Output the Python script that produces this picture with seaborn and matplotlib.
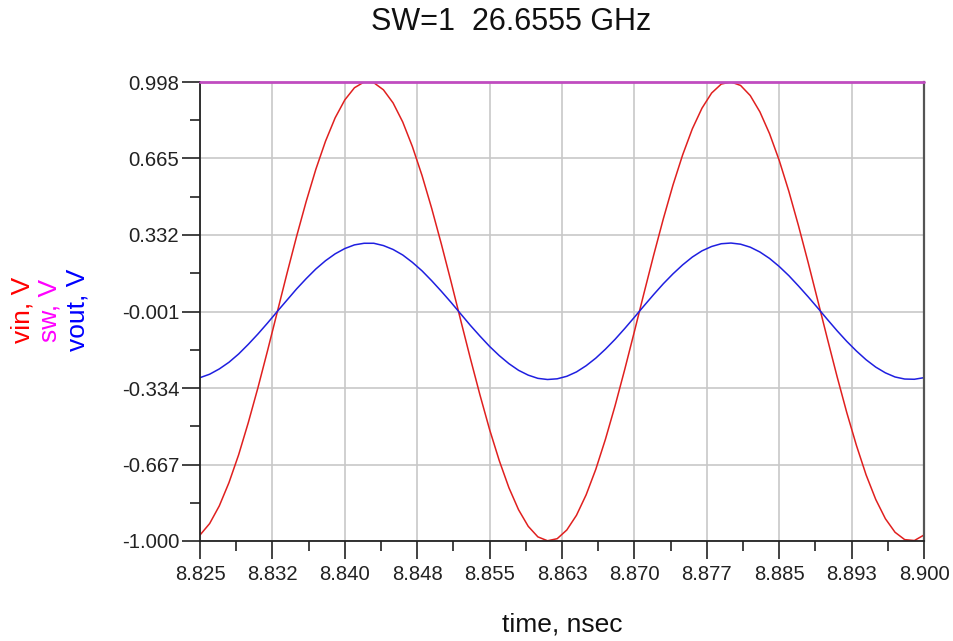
import numpy as np
import pandas as pd
import matplotlib
matplotlib.use('Agg')
import matplotlib.pyplot as plt
import seaborn as sns
from matplotlib.ticker import AutoMinorLocator

# sample times (nsec), every 1 ps
time = [8.825, 8.826, 8.827, 8.828, 8.829, 8.830, 8.831, 8.832, 8.833, 8.834,
        8.835, 8.836, 8.837, 8.838, 8.839, 8.840, 8.841, 8.842, 8.843, 8.844,
        8.845, 8.846, 8.847, 8.848, 8.849, 8.850, 8.851, 8.852, 8.853, 8.854,
        8.855, 8.856, 8.857, 8.858, 8.859, 8.860, 8.861, 8.862, 8.863, 8.864,
        8.865, 8.866, 8.867, 8.868, 8.869, 8.870, 8.871, 8.872, 8.873, 8.874,
        8.875, 8.876, 8.877, 8.878, 8.879, 8.880, 8.881, 8.882, 8.883, 8.884,
        8.885, 8.886, 8.887, 8.888, 8.889, 8.890, 8.891, 8.892, 8.893, 8.894,
        8.895, 8.896, 8.897, 8.898, 8.899, 8.900]

vin = [-0.974, -0.924, -0.847, -0.746, -0.625, -0.485, -0.333, -0.171, -0.004, 0.163,
       0.325, 0.478, 0.618, 0.740, 0.842, 0.920, 0.973, 0.998, 0.995, 0.964,
       0.907, 0.824, 0.717, 0.591, 0.448, 0.293, 0.130, -0.038, -0.204, -0.364,
       -0.515, -0.650, -0.768, -0.864, -0.936, -0.982, -0.999, -0.990, -0.952, -0.888,
       -0.799, -0.688, -0.557, -0.411, -0.253, -0.088, 0.080, 0.245, 0.403, 0.550,
       0.681, 0.794, 0.884, 0.950, 0.989, 0.998, 0.983, 0.939, 0.868, 0.773,
       0.657, 0.522, 0.372, 0.212, 0.046, -0.121, -0.285, -0.441, -0.584, -0.712,
       -0.819, -0.903, -0.962, -0.994, -0.998, -0.974]

vout = [-0.289, -0.274, -0.251, -0.222, -0.186, -0.144, -0.099, -0.051, -0.001, 0.048,
        0.097, 0.142, 0.184, 0.220, 0.250, 0.273, 0.289, 0.296, 0.296, 0.286,
        0.269, 0.245, 0.213, 0.176, 0.133, 0.087, 0.039, -0.011, -0.061, -0.108,
        -0.153, -0.193, -0.228, -0.257, -0.278, -0.292, -0.297, -0.294, -0.283, -0.264,
        -0.237, -0.204, -0.165, -0.122, -0.075, -0.026, 0.024, 0.073, 0.120, 0.163,
        0.202, 0.236, 0.263, 0.282, 0.294, 0.297, 0.292, 0.279, 0.258, 0.230,
        0.195, 0.155, 0.110, 0.063, 0.014, -0.036, -0.085, -0.131, -0.173, -0.211,
        -0.243, -0.268, -0.286, -0.295, -0.296, -0.289]

sw_time = [8.825, 8.900]
sw = [1.0, 1.0]

xticks = [8.825, 8.8325, 8.840, 8.8475, 8.855, 8.8625, 8.870, 8.8775, 8.885, 8.8925, 8.900]
xticklabels = ['8.825', '8.832', '8.840', '8.848', '8.855', '8.863',
               '8.870', '8.877', '8.885', '8.893', '8.900']
yticks = [0.998, 0.665, 0.332, -0.001, -0.334, -0.667, -1.000]
yticklabels = ['0.998', '0.665', '0.332', '-0.001', '-0.334', '-0.667', '-1.000']

sns.set_style('white')
plt.rcParams['font.family'] = ['Liberation Sans', 'DejaVu Sans']

fig = plt.figure(figsize=(9.54, 6.41), dpi=100)
ax = fig.add_axes([200 / 954, 1 - 541 / 641, 724 / 954, 459 / 641])

df = pd.DataFrame({'time': time, 'vin': vin, 'vout': vout})
sns.lineplot(data=df, x='time', y='vin', ax=ax, color='#e0201f', lw=1.1, sort=False)
sns.lineplot(data=df, x='time', y='vout', ax=ax, color='#1f1fe0', lw=1.1, sort=False)
sns.lineplot(x=sw_time, y=sw, ax=ax, color='#c04cc0', lw=2.0, clip_on=False, zorder=5)

ax.set_xlim(8.825, 8.900)
ax.set_ylim(-1.000, 0.998)
ax.set_xticks(xticks)
ax.set_xticklabels(xticklabels)
ax.set_yticks(yticks)
ax.set_yticklabels(yticklabels)
ax.xaxis.set_minor_locator(AutoMinorLocator(2))
ax.yaxis.set_minor_locator(AutoMinorLocator(2))

ax.grid(True, which='major', color='#c8c8c8', lw=1.2)
ax.tick_params(which='major', direction='out', length=13, width=1.2, color='#222222',
               labelsize=14.6, labelcolor='#222222', pad=2,
               bottom=True, left=True)
ax.tick_params(axis='x', which='major', pad=4)
ax.tick_params(which='minor', direction='out', length=7, width=1.2, color='#222222',
               bottom=True, left=True)

for side in ['left', 'bottom']:
    ax.spines[side].set_color('#222222')
    ax.spines[side].set_linewidth(1.3)
ax.spines['right'].set_color('#555555')
ax.spines['right'].set_linewidth(1.6)
ax.spines['top'].set_visible(False)

ax.set_xlabel('time, nsec', fontsize=19, color='#111111', labelpad=21)
ax.set_ylabel('')

fig.text(511 / 954, 1 - 22 / 641, 'SW=1  26.6555 GHz', fontsize=22,
         ha='center', va='center', color='#111111')
fig.text(23 / 954, 1 - 310 / 641, 'vin, V', rotation=90, fontsize=19,
         ha='center', va='center', color='#ff0000')
fig.text(50 / 954, 1 - 310 / 641, 'sw, V', rotation=90, fontsize=19,
         ha='center', va='center', color='#ff00ff')
fig.text(77 / 954, 1 - 310 / 641, 'vout, V', rotation=90, fontsize=19,
         ha='center', va='center', color='#0000ff')

fig.savefig('out.png', dpi=100)
